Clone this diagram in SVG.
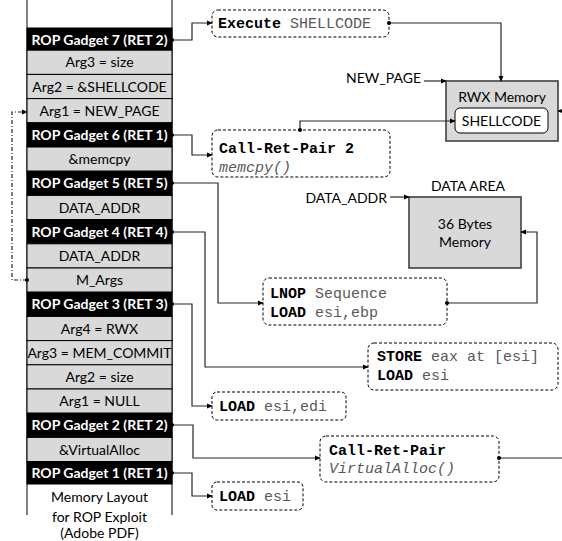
<svg xmlns="http://www.w3.org/2000/svg" width="562" height="541" viewBox="0 0 562 541">
<defs>
<style>
.cell{fill:#d9d9d9;stroke:#000;stroke-width:1}
.blk{fill:#000;stroke:#000;stroke-width:1}
.ct{font-family:Lato,"Liberation Sans",sans-serif;font-size:14px;fill:#000;text-anchor:middle}
.bt{font-family:Lato,"Liberation Sans",sans-serif;font-size:14px;font-weight:bold;fill:#fff;text-anchor:middle}
.lbl{font-family:Lato,"Liberation Sans",sans-serif;font-size:14px;fill:#000;text-anchor:end}
.code{font-family:"Liberation Mono","Courier New",monospace;font-size:15px;fill:#595959}
.code .b{font-weight:bold;fill:#000}
.dbox{fill:#fff;stroke:#000;stroke-width:1;stroke-dasharray:3 2}
.gbox{fill:#d9d9d9;stroke:#404040;stroke-width:1.6}
.con{fill:none;stroke:#262626;stroke-width:1.2}
</style>
<marker id="ah" viewBox="0 0 8 8" refX="7" refY="4" markerWidth="6" markerHeight="6" orient="auto" markerUnits="userSpaceOnUse">
<path d="M0,0.5 L8,4 L0,7.5 Z" fill="#000"/>
</marker>
<marker id="dot" viewBox="0 0 6 6" refX="3" refY="3" markerWidth="4" markerHeight="4" orient="auto" markerUnits="userSpaceOnUse">
<circle cx="3" cy="3" r="3" fill="#000"/>
</marker>
</defs>
<rect width="562" height="541" fill="#fff"/>

<g id="stack">
<line x1="27" y1="0" x2="27" y2="515" stroke="#000" stroke-width="1"/>
<line x1="172" y1="0" x2="172" y2="515" stroke="#000" stroke-width="1"/>
<rect class="blk" x="27" y="28" width="145" height="22"/>
<text class="bt" x="99.5" y="44.5">ROP Gadget 7 (RET 2)</text>
<rect class="cell" x="27" y="50.2" width="145" height="24.2"/>
<text class="ct" x="99.5" y="67.3">Arg3 = size</text>
<rect class="cell" x="27" y="74.4" width="145" height="24.2"/>
<text class="ct" x="99.5" y="91.5">Arg2 = &amp;SHELLCODE</text>
<rect class="cell" x="27" y="98.6" width="145" height="24.2"/>
<text class="ct" x="99.5" y="115.7">Arg1 = NEW_PAGE</text>
<rect class="blk" x="27" y="122.8" width="145" height="24.2"/>
<text class="bt" x="99.5" y="139.9">ROP Gadget 6 (RET 1)</text>
<rect class="cell" x="27" y="147" width="145" height="24.2"/>
<text class="ct" x="99.5" y="164.1">&amp;memcpy</text>
<rect class="blk" x="27" y="171.2" width="145" height="24.2"/>
<text class="bt" x="99.5" y="188.3">ROP Gadget 5 (RET 5)</text>
<rect class="cell" x="27" y="195.4" width="145" height="24.2"/>
<text class="ct" x="99.5" y="212.5">DATA_ADDR</text>
<rect class="blk" x="27" y="219.6" width="145" height="24.2"/>
<text class="bt" x="99.5" y="236.7">ROP Gadget 4 (RET 4)</text>
<rect class="cell" x="27" y="243.8" width="145" height="24.2"/>
<text class="ct" x="99.5" y="260.9">DATA_ADDR</text>
<rect class="cell" x="27" y="268" width="145" height="24.2"/>
<text class="ct" x="99.5" y="285.1">M_Args</text>
<rect class="blk" x="27" y="292.2" width="145" height="24.2"/>
<text class="bt" x="99.5" y="309.3">ROP Gadget 3 (RET 3)</text>
<rect class="cell" x="27" y="316.4" width="145" height="24.2"/>
<text class="ct" x="99.5" y="333.5">Arg4 = RWX</text>
<rect class="cell" x="27" y="340.6" width="145" height="24.2"/>
<text class="ct" x="99.5" y="357.7">Arg3 = MEM_COMMIT</text>
<rect class="cell" x="27" y="364.8" width="145" height="24.2"/>
<text class="ct" x="99.5" y="381.9">Arg2 = size</text>
<rect class="cell" x="27" y="389" width="145" height="24.2"/>
<text class="ct" x="99.5" y="406.1">Arg1 = NULL</text>
<rect class="blk" x="27" y="413.2" width="145" height="24.2"/>
<text class="bt" x="99.5" y="430.3">ROP Gadget 2 (RET 2)</text>
<rect class="cell" x="27" y="437.4" width="145" height="24.2"/>
<text class="ct" x="99.5" y="454.5">&amp;VirtualAlloc</text>
<rect class="blk" x="27" y="461.6" width="145" height="22.4"/>
<text class="bt" x="99.5" y="477.8">ROP Gadget 1 (RET 1)</text>
<text class="ct" x="99.5" y="502">Memory Layout</text>
<text class="ct" x="99.5" y="522">for ROP Exploit</text>
<text class="ct" x="99.5" y="541" dy="-3">(Adobe PDF)</text>
</g>

<g id="execute">
<rect class="dbox" x="212" y="10" width="177" height="27" rx="6"/>
<text class="code" x="218" y="28"><tspan class="b">Execute</tspan> SHELLCODE</text>
</g>

<g id="rwx">
<text class="lbl" x="421" y="83">NEW_PAGE</text>
<rect class="gbox" x="446" y="81" width="112" height="60"/>
<text class="ct" x="502" y="102">RWX Memory</text>
<rect x="455" y="108" width="93" height="25" rx="5" fill="#fff" stroke="#000" stroke-width="1"/>
<text class="ct" x="501.5" y="126">SHELLCODE</text>
</g>

<g id="crp2">
<rect class="dbox" x="212" y="130" width="178" height="47" rx="6"/>
<text class="code" x="219" y="153"><tspan class="b">Call-Ret-Pair 2</tspan></text>
<text class="code" x="219" y="172" font-style="italic">memcpy()</text>
</g>

<g id="data">
<text class="lbl" x="387" y="203">DATA_ADDR</text>
<text class="ct" x="468" y="191">DATA AREA</text>
<rect class="gbox" x="409" y="197" width="112" height="71"/>
<text class="ct" x="465" y="229">36 Bytes</text>
<text class="ct" x="465" y="247">Memory</text>
</g>

<g id="lnop">
<rect class="dbox" x="263" y="278" width="184" height="47" rx="6"/>
<text class="code" x="270" y="298"><tspan class="b">LNOP</tspan> Sequence</text>
<text class="code" x="270" y="317"><tspan class="b">LOAD</tspan> esi,ebp</text>
</g>

<g id="store">
<rect class="dbox" x="368" y="343" width="190" height="47" rx="6"/>
<text class="code" x="377" y="361"><tspan class="b">STORE</tspan> eax at [esi]</text>
<text class="code" x="377" y="380"><tspan class="b">LOAD</tspan> esi</text>
</g>

<g id="loadedi">
<rect class="dbox" x="212" y="392" width="134" height="28" rx="5"/>
<text class="code" x="219" y="411"><tspan class="b">LOAD</tspan> esi,edi</text>
</g>

<g id="crpva">
<rect class="dbox" x="320" y="436" width="179" height="46" rx="6"/>
<text class="code" x="329" y="455"><tspan class="b">Call-Ret-Pair</tspan></text>
<text class="code" x="329" y="473" font-style="italic">VirtualAlloc()</text>
</g>

<g id="loadesi">
<rect class="dbox" x="212" y="482" width="91" height="28" rx="5"/>
<text class="code" x="219" y="501"><tspan class="b">LOAD</tspan> esi</text>
</g>

<g id="connectors">
<path class="con" d="M172,40 H192 V23 H212" marker-start="url(#dot)" marker-end="url(#ah)"/>
<path class="con" d="M389,23 H501 V81" marker-start="url(#dot)" marker-end="url(#ah)"/>
<path class="con" d="M424,81 H446" marker-end="url(#ah)"/>
<path class="con" d="M172,135 H192 V155 H212" marker-start="url(#dot)" marker-end="url(#ah)"/>
<path class="con" d="M300,130 V121 H455" marker-start="url(#dot)" marker-end="url(#ah)"/>
<path class="con" d="M566,111 H558" marker-end="url(#ah)"/>
<path class="con" d="M390,197 H409" marker-end="url(#ah)"/>
<path class="con" d="M172,183 H218 V303 H263" marker-start="url(#dot)" marker-end="url(#ah)"/>
<path class="con" d="M447,303 H537 V232 H521" marker-start="url(#dot)" marker-end="url(#ah)" stroke="#595959" stroke-width="1.6"/>
<path class="con" d="M172,232 H205 V367 H368" marker-start="url(#dot)" marker-end="url(#ah)"/>
<path class="con" d="M172,304 H192 V406 H212" marker-start="url(#dot)" marker-end="url(#ah)"/>
<path class="con" d="M172,425 H193 V458 H320" marker-start="url(#dot)" marker-end="url(#ah)"/>
<path class="con" d="M499,458 H562" marker-start="url(#dot)"/>
<path class="con" d="M172,473 H192 V496 H212" marker-start="url(#dot)" marker-end="url(#ah)"/>
<path class="con" d="M27,280 H12 V112 H27" stroke-dasharray="4 2 1 2" marker-start="url(#dot)" marker-end="url(#ah)"/>
</g>
</svg>
